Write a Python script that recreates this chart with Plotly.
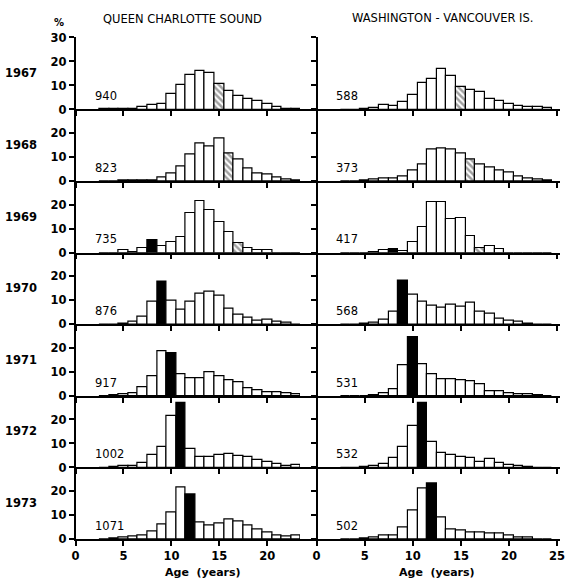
import plotly.graph_objects as go

# ---------------- data ----------------
YEARS = [1967, 1968, 1969, 1970, 1971, 1972, 1973]
AGES = list(range(3, 25))  # 3 .. 24

# percent of sample at each age (ages 3..24)
QCS_1967 = [0.3, 0.2, 0.2, 0.4, 1.0, 1.8, 2.4, 6.3, 10.3, 14.5, 15.9, 15.4, 10.7, 7.7, 5.5, 4.5, 3.4, 2.1, 1.1, 0.3, 0.2, 0.0]
QCS_1968 = [0.0, 0.0, 0.2, 0.3, 0.3, 0.4, 1.4, 3.1, 6.1, 11.0, 15.7, 14.3, 17.6, 11.7, 9.0, 5.3, 3.1, 2.6, 1.4, 0.5, 0.2, 0.0]
QCS_1969 = [0.0, 0.0, 0.9, 0.2, 2.0, 5.3, 2.7, 4.6, 6.7, 16.6, 21.5, 17.9, 12.8, 8.5, 3.9, 2.0, 1.2, 1.2, 0.0, 0.0, 0.0, 0.0]
QCS_1970 = [0.0, 0.0, 0.3, 1.0, 3.3, 9.3, 17.6, 10.0, 6.0, 9.6, 12.6, 13.4, 11.9, 6.7, 4.0, 2.6, 1.4, 1.9, 1.0, 0.5, 0.0, 0.0]
QCS_1971 = [0.0, 0.3, 0.6, 1.2, 3.6, 8.3, 18.6, 17.9, 8.9, 7.4, 7.4, 10.0, 8.1, 6.4, 5.7, 3.3, 2.4, 1.7, 1.4, 1.0, 0.5, 0.0]
QCS_1972 = [0.0, 0.2, 0.5, 0.8, 1.8, 5.4, 8.6, 21.5, 26.9, 7.7, 4.6, 4.6, 5.1, 5.6, 4.9, 4.4, 3.0, 2.5, 1.5, 0.8, 1.1, 0.0]
QCS_1973 = [0.0, 0.3, 0.7, 1.1, 1.4, 3.2, 6.0, 11.1, 21.5, 18.5, 6.9, 5.7, 6.7, 8.3, 7.4, 5.6, 4.2, 2.8, 1.5, 1.1, 1.4, 0.0]

WVI_1967 = [0.0, 0.0, 0.2, 0.7, 1.8, 1.4, 3.3, 6.1, 10.9, 12.8, 16.7, 13.9, 9.3, 8.3, 7.5, 4.4, 3.5, 2.4, 1.3, 1.2, 1.2, 0.8]
WVI_1968 = [0.0, 0.0, 0.3, 0.7, 1.0, 1.0, 2.0, 4.4, 7.1, 13.0, 13.6, 13.0, 11.6, 9.1, 6.8, 5.5, 4.4, 3.4, 2.0, 1.2, 0.7, 0.3]
WVI_1969 = [0.0, 0.0, 0.0, 0.3, 1.1, 1.6, 0.8, 4.5, 10.8, 21.0, 21.0, 13.9, 14.6, 6.9, 1.8, 2.7, 1.4, 0.0, 0.0, 0.0, 0.0, 0.0]
WVI_1970 = [0.0, 0.0, 0.3, 0.7, 1.8, 5.4, 18.2, 12.4, 9.5, 7.8, 7.0, 8.1, 7.4, 8.8, 5.4, 4.5, 2.3, 1.4, 0.9, 0.3, 0.0, 0.0]
WVI_1971 = [0.0, 0.0, 0.0, 0.3, 1.0, 2.7, 12.7, 24.3, 13.0, 9.2, 6.9, 7.0, 6.6, 5.9, 4.8, 2.0, 2.0, 1.0, 0.7, 0.7, 0.3, 0.0]
WVI_1972 = [0.0, 0.0, 0.3, 0.7, 1.7, 4.2, 8.7, 17.5, 26.8, 10.8, 5.9, 5.2, 4.5, 4.2, 2.4, 3.5, 2.0, 1.0, 0.7, 0.3, 0.0, 0.0]
WVI_1973 = [0.0, 0.0, 0.3, 0.7, 1.4, 1.4, 4.9, 12.1, 21.1, 23.2, 9.0, 3.9, 3.5, 2.8, 2.8, 2.4, 2.4, 1.7, 0.7, 0.5, 0.0, 0.0]

QCS = [QCS_1967, QCS_1968, QCS_1969, QCS_1970, QCS_1971, QCS_1972, QCS_1973]
WVI = [WVI_1967, WVI_1968, WVI_1969, WVI_1970, WVI_1971, WVI_1972, WVI_1973]

QCS_N = [940, 823, 735, 876, 917, 1002, 1071]
WVI_N = [588, 373, 417, 568, 531, 532, 502]

# age of the marked cohorts in each year (None = no mark)
HATCHED_AGE = [15, 16, 17, None, None, None, None]
BLACK_AGE = [None, None, 8, 9, 10, 11, 12]

TITLES = ["QUEEN CHARLOTTE SOUND", "WASHINGTON - VANCOUVER IS."]
X_LABEL = "Age  (years)"
X_TICKS_LEFT = [0, 5, 10, 15, 20]
X_TICKS_RIGHT = [0, 5, 10, 15, 20, 25]

# ---------------- geometry (pixels) ----------------
W, H = 575, 580
ZERO0 = 109.5
ROW = 71.6
PX_PER_PCT = 2.4
LEFT_X0, LEFT_X1 = 75.5, 300.0
RIGHT_X0, RIGHT_X1 = 300.0, 560.0
RIGHT_YAXIS = 316.6

FONT = "DejaVu Sans"


def pxp(p):
    return p / W


def pyp(p):
    return round(1 - p / H, 6)


fig = go.Figure()
layout = {}
annotations = []

for i, yr in enumerate(YEARS):
    z = round(ZERO0 + ROW * i, 3)
    top = 37.0 if i == 0 else round(ZERO0 + ROW * (i - 1), 3)
    ymax = (z - top) / PX_PER_PCT
    yt = [0, 10, 20, 30] if i == 0 else [0, 10, 20]
    last = i == len(YEARS) - 1
    for j, (vals, n) in enumerate([(QCS[i], QCS_N[i]), (WVI[i], WVI_N[i])]):
        k = i * 2 + j + 1
        xname = "x" if k == 1 else f"x{k}"
        yname = "y" if k == 1 else f"y{k}"
        xkey = "xaxis" if k == 1 else f"xaxis{k}"
        ykey = "yaxis" if k == 1 else f"yaxis{k}"

        colors, shapes = [], []
        for a in AGES:
            if a == BLACK_AGE[i]:
                colors.append("black")
                shapes.append("")
            elif a == HATCHED_AGE[i]:
                colors.append("white")
                shapes.append("\\")
            else:
                colors.append("white")
                shapes.append("")

        fig.add_trace(go.Bar(
            x=AGES, y=vals, width=1.0,
            marker=dict(color=colors,
                        line=dict(color="black", width=1.2),
                        pattern=dict(shape=shapes, fgcolor="black", fillmode="overlay",
                                     size=4.5, solidity=0.55)),
            xaxis=xname, yaxis=yname, showlegend=False, hoverinfo="skip"))

        if j == 0:
            xdom = [pxp(LEFT_X0), pxp(LEFT_X1)]
            xrange = [0, (LEFT_X1 - LEFT_X0) / 9.59]
            ticks = X_TICKS_LEFT
        else:
            xdom = [pxp(RIGHT_X0 + 0.01), pxp(RIGHT_X1)]
            xrange = [-1.72, 25.3]
            ticks = X_TICKS_RIGHT

        layout[xkey] = dict(
            domain=xdom, range=xrange, anchor=yname, automargin=False,
            showline=True, linecolor="black", linewidth=1.5,
            showgrid=False, zeroline=False,
            ticks="outside", ticklen=5, tickwidth=1.5, tickcolor="black",
            tickmode="array", tickvals=ticks,
            showticklabels=last,
            tickfont=dict(family=FONT, size=11.5, color="black", weight="bold"),
            fixedrange=True)
        ydict = dict(
            domain=[pyp(z), pyp(top)], range=[0, ymax], automargin=False,
            showline=True, linecolor="black", linewidth=1.5,
            showgrid=False, zeroline=False,
            ticks="outside", ticklen=5, tickwidth=1.5, tickcolor="black",
            tickmode="array", tickvals=yt,
            showticklabels=(j == 0),
            tickfont=dict(family=FONT, size=11.5, color="black", weight="bold"),
            fixedrange=True)
        if j == 0:
            ydict["anchor"] = xname
        else:
            ydict["anchor"] = "free"
            ydict["position"] = pxp(RIGHT_YAXIS)
        layout[ykey] = ydict

        annotations.append(dict(
            x=1.8, y=5.5, xref=xname, yref=yname, text=str(n),
            xanchor="left", yanchor="middle", showarrow=False,
            font=dict(family=FONT, size=11.5, color="black")))

        if j == 0:
            annotations.append(dict(
                x=pxp(21), y=15, xref="paper", yref=yname, text=str(yr),
                xanchor="center", yanchor="middle", showarrow=False,
                font=dict(family=FONT, size=11.5, color="black", weight="bold")))

annotations += [
    dict(x=pxp(59), y=pyp(23), xref="paper", yref="paper", text="%",
         xanchor="center", yanchor="middle",
         showarrow=False, font=dict(family=FONT, size=10, color="black", weight="bold")),
    dict(x=pxp(182), y=pyp(19), xref="paper", yref="paper", text=TITLES[0],
         xanchor="center", yanchor="middle",
         showarrow=False, font=dict(family=FONT, size=11.5, color="black")),
    dict(x=pxp(442), y=pyp(18), xref="paper", yref="paper", text=TITLES[1],
         xanchor="center", yanchor="middle",
         showarrow=False, font=dict(family=FONT, size=11.5, color="black")),
    dict(x=pxp(203), y=pyp(573), xref="paper", yref="paper", text=X_LABEL,
         xanchor="center", yanchor="middle",
         showarrow=False, font=dict(family=FONT, size=11, color="black", weight="bold")),
    dict(x=pxp(437), y=pyp(573), xref="paper", yref="paper", text=X_LABEL,
         xanchor="center", yanchor="middle",
         showarrow=False, font=dict(family=FONT, size=11, color="black", weight="bold")),
]

fig.update_layout(
    width=W, height=H,
    margin=dict(l=0, r=0, t=0, b=0, autoexpand=False),
    paper_bgcolor="white", plot_bgcolor="rgba(0,0,0,0)",
    bargap=0, showlegend=False,
    annotations=annotations,
    **layout)

fig.write_html("out.html")
